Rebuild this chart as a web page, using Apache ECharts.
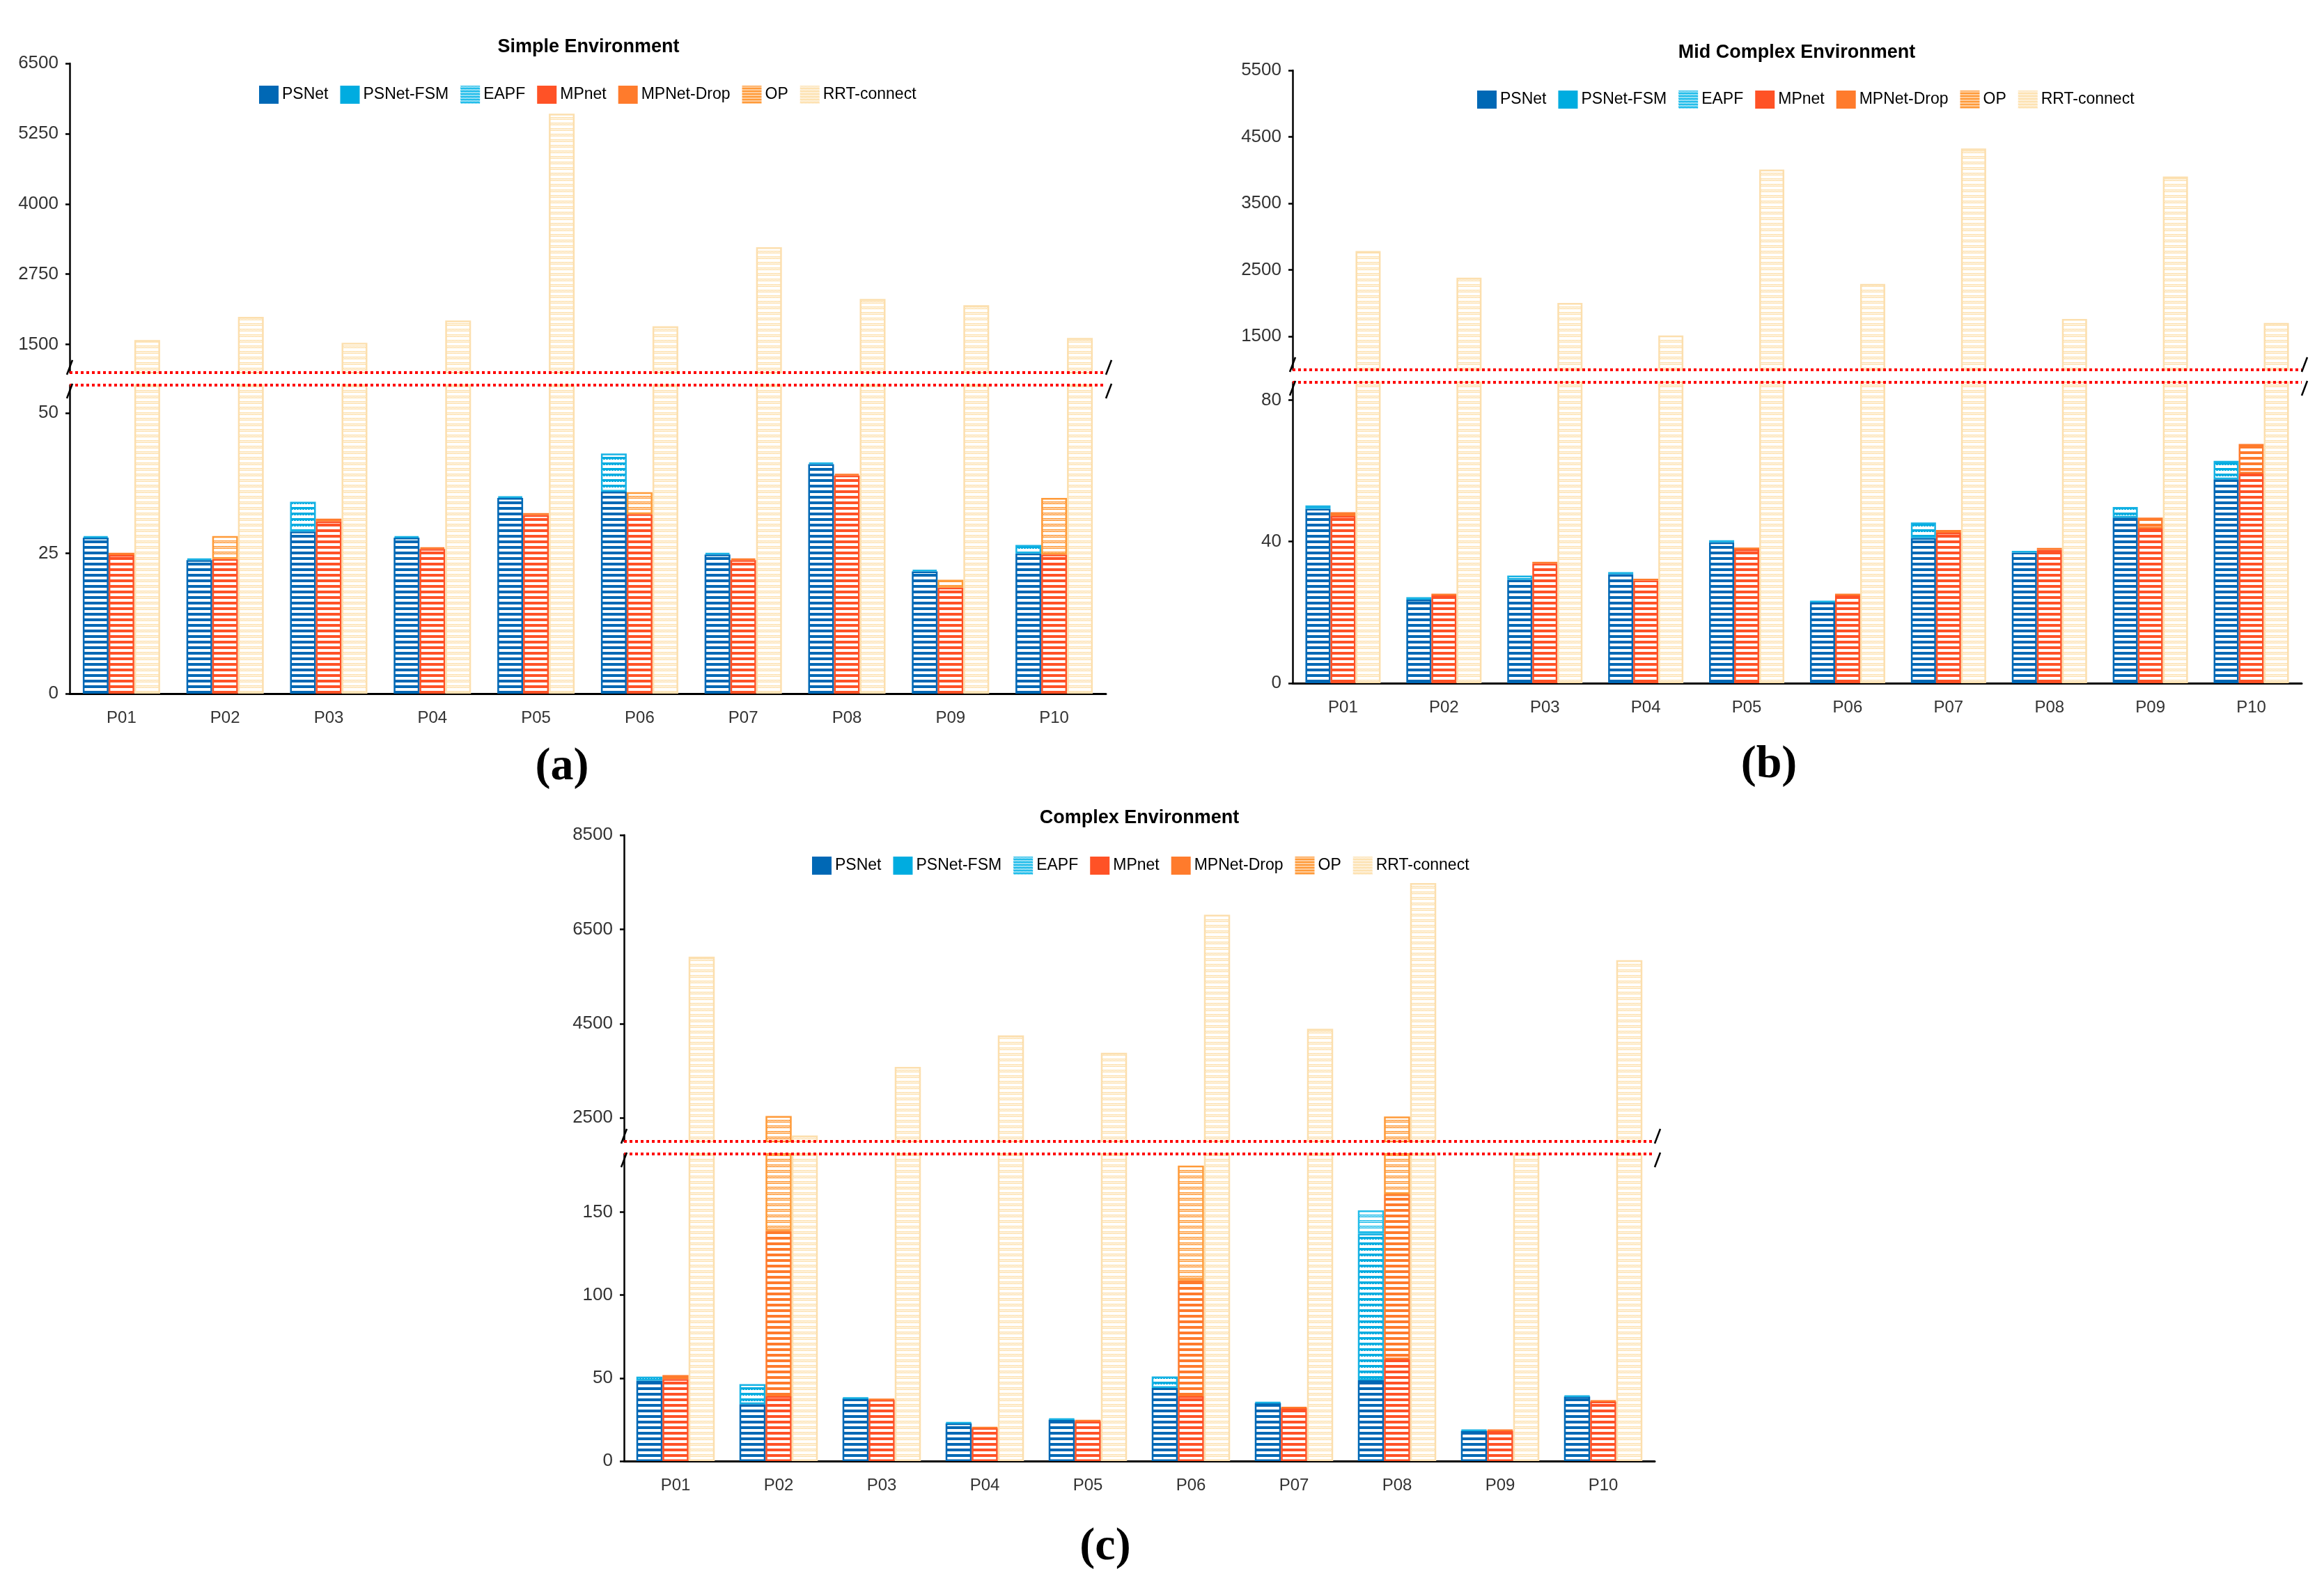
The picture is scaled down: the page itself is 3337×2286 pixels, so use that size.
<!DOCTYPE html>
<html>
<head>
<meta charset="utf-8">
<title>Planning time by environment</title>
<script src="https://cdn.jsdelivr.net/npm/echarts@6.0.0/dist/echarts.min.js"></script>
<style>
    html, body { margin: 0; padding: 0; background: #fff; }
    #cn { width: 3337px; height: 2286px; }
</style>
</head>
<body>
<div id="cn"></div>
<script>
'use strict';

const categories = ['P01', 'P02', 'P03', 'P04', 'P05', 'P06', 'P07', 'P08', 'P09', 'P10'];
const seriesNames = ['PSNet', 'PSNet-FSM', 'EAPF', 'MPnet', 'MPNet-Drop', 'OP', 'RRT-connect'];

// (a) Simple Environment  (null = hidden behind a taller bar of the same group)
const simplePSNet = [27.8, 23.8, 28.9, 27.8, 34.9, 36.0, 24.8, 40.9, 21.8, 25.0];
const simpleFSM   = [28.1, 24.1, 34.2, 28.1, 35.2, 42.8, 25.1, 41.2, 22.1, 26.5];
const simpleEAPF  = [null, null, null, null, null, null, null, null, null, null];
const simpleMPnet = [24.7, 24.0, 30.7, 25.8, 31.8, 32.0, 23.8, 38.9, 18.9, 24.8];
const simpleDrop  = [25.1, null, 31.2, 26.1, 32.2, null, 24.1, 39.2, null, null];
const simpleOP    = [null, 28.1, null, null, null, 35.9, null, null, 20.3, 34.9];
const simpleRRT   = [1580, 1990, 1530, 1925, 5605, 1825, 3230, 2310, 2200, 1615];

// (b) Mid Complex Environment
const midPSNet = [49.3, 23.6, 29.2, 30.8, 39.8, 22.8, 41.0, 36.9, 46.8, 57.6];
const midFSM   = [50.2, 24.3, 30.4, 31.4, 40.4, 23.3, 45.4, 37.4, 49.8, 62.8];
const midEAPF  = [null, null, null, null, null, null, null, null, null, null];
const midMPnet = [47.2, 24.8, 33.8, 29.0, 37.8, 24.8, 42.5, 37.7, 43.7, 59.2];
const midDrop  = [48.3, 25.3, 34.3, 29.5, 38.3, 25.3, 43.3, 38.2, 46.8, 67.6];
const midOP    = [null, null, null, null, null, null, null, null, null, null];
const midRRT   = [2785, 2385, 2005, 1515, 4010, 2290, 4325, 1765, 3905, 1705];

// (c) Complex Environment
const complexPSNet = [48.5, 34.3, 37.8, 22.8, 25.0, 44.0, 35.0, 48.7, 18.3, 38.9];
const complexFSM   = [50.9, 46.4, 38.2, 23.3, 25.5, 51.0, 35.5, 137, 18.8, 39.4];
const complexEAPF  = [null, null, null, null, null, null, null, 151, null, null];
const complexMPnet = [49.4, 39.0, 36.9, 19.9, 24.1, 39.0, 32.0, 61.2, 18.3, 35.9];
const complexDrop  = [51.8, 138.6, 37.3, 20.3, 24.6, 108.8, 32.4, 160.7, 18.8, 36.4];
const complexOP    = [null, 2540, null, null, null, 178, null, 2527, null, null];
const complexRRT   = [5920, 2126, 3580, 4250, 3880, 6810, 4390, 7480, 1850, 5845];

// tick labels (upper / lower part of the broken axis)
const simpleTicksUpper = [1500, 2750, 4000, 5250, 6500];
const simpleTicksLower = [0, 25, 50];
const midTicksUpper = [1500, 2500, 3500, 4500, 5500];
const midTicksLower = [0, 40, 80];
const complexTicksUpper = [2500, 4500, 6500, 8500];
const complexTicksLower = [0, 50, 100, 150];

const FONT = 'Liberation Sans, Arial, sans-serif';

const panels = [{
        title: 'Simple Environment', tag: '(a)',
        values: [simplePSNet, simpleFSM, simpleEAPF, simpleMPnet, simpleDrop, simpleOP, simpleRRT],
        ticksUp: simpleTicksUpper, ticksLow: simpleTicksLower,
        upMin: 1000, upMax: 6500, lowMax: 55,
        left: 100, width: 1488, upTop: 91, upBottom: 535, lowTop: 553, lowBottom: 996,
        barWidth: 37, titleX: 845, titleY: 68, legendX: 367, legendY: 118, tagX: 807, tagY: 1102
    },
    {
        title: 'Mid Complex Environment', tag: '(b)',
        values: [midPSNet, midFSM, midEAPF, midMPnet, midDrop, midOP, midRRT],
        ticksUp: midTicksUpper, ticksLow: midTicksLower,
        upMin: 1000, upMax: 5500, lowMax: 85,
        left: 1856, width: 1449, upTop: 101, upBottom: 531, lowTop: 549, lowBottom: 981,
        barWidth: 36, titleX: 2580, titleY: 76, legendX: 2116, legendY: 125, tagX: 2540, tagY: 1099
    },
    {
        title: 'Complex Environment', tag: '(c)',
        values: [complexPSNet, complexFSM, complexEAPF, complexMPnet, complexDrop, complexOP, complexRRT],
        ticksUp: complexTicksUpper, ticksLow: complexTicksLower,
        upMin: 2000, upMax: 8500, lowMax: 185,
        left: 896, width: 1480, upTop: 1199, upBottom: 1639, lowTop: 1657, lowBottom: 2098,
        barWidth: 37.5, titleX: 1636, titleY: 1175, legendX: 1161, legendY: 1225, tagX: 1587, tagY: 2222
    }
];

/**
 * small repeating tile: coloured stripe on top, white stripe below
 * @param {string} color
 * @param {string} kind plain | tick | dots | full
 */
const makePattern = (color, kind) => {
    const tile = document.createElement('canvas');
    tile.width = 8;
    tile.height = 8;
    const ctx = tile.getContext('2d');
    ctx.fillStyle = '#ffffff';
    ctx.fillRect(0, 0, 8, 8);
    ctx.fillStyle = color;
    ctx.fillRect(0, 0, 8, kind === 'full' ? 8 : 4);
    ctx.fillStyle = '#ffffff';
    if (kind === 'tick') {
        ctx.fillRect(1, 3, 1, 1);
        ctx.fillRect(5, 3, 1, 1);
    }
    if (kind === 'dots' || kind === 'full') {
        for (let x = 0; x < 8; x += 2) {
            ctx.fillRect(x, 1, 1, 1);
            ctx.fillRect(x + 1, 2, 1, 1);
            if (kind === 'full') {
                ctx.fillRect(x, 5, 1, 1);
                ctx.fillRect(x + 1, 6, 1, 1);
            }
        }
    }
    return { image: tile, repeat: 'repeat' };
};

const baseColors = ['#0068b5', '#00ace0', '#22bdea', '#ff5226', '#ff7b2c', '#ff9a38', '#fde2b2'];
const borderColors = ['#0068b5', '#17b2e4', '#22bdea', '#ff5226', '#ff7b2c', '#ff9a38', '#fcdfae'];
const barKinds = ['plain', 'tick', 'dots', 'plain', 'plain', 'dots', 'dots'];
const legendKinds = ['solid', 'solid', 'full', 'solid', 'solid', 'full', 'full'];

const barStyles = baseColors.map((c, i) => ({
    color: makePattern(c, barKinds[i]),
    borderColor: borderColors[i],
    borderWidth: 2.5
}));
const legendItems = seriesNames.map((n, i) => ({
    name: n,
    itemStyle: {
        color: legendKinds[i] === 'solid' ? baseColors[i] : makePattern(baseColors[i], 'full'),
        borderWidth: 0
    }
}));

// overlapping bars (tallest behind) drawn as a stack of the visible increments
const toSteps = (lists) => {
    const top = categories.map(() => 0);
    return lists.map(list => list.map((v, i) => {
        if (v == null || v <= top[i]) {
            return '-';
        }
        const d = v - top[i];
        top[i] = v;
        return d;
    }));
};

const grid = [];
const xAxis = [];
const yAxis = [];
const series = [];
const title = [];
const graphic = [];

const redLine = { color: '#ff0000', width: 4, type: 'dotted', cap: 'butt' };
const blackLine = { color: '#000000', width: 2.5 };
const plainNumber = v => String(v);

panels.forEach((p, k) => {
    grid.push({ left: p.left, width: p.width, top: p.upTop, height: p.upBottom - p.upTop, outerBoundsMode: 'none' });
    grid.push({ left: p.left, width: p.width, top: p.lowTop, height: p.lowBottom - p.lowTop, outerBoundsMode: 'none' });

    // upper: red dotted bottom line, lower: black axis + red dotted top line
    xAxis.push({
        type: 'category', gridIndex: 2 * k, data: categories, z: 5,
        axisLine: { onZero: false, lineStyle: redLine },
        axisTick: { show: false }, axisLabel: { show: false }
    });
    xAxis.push({
        type: 'category', gridIndex: 2 * k + 1, data: categories,
        axisLine: { onZero: false, lineStyle: { color: '#000', width: 3 } },
        axisTick: { alignWithLabel: true, length: 9, lineStyle: { color: '#000', width: 2 } },
        axisLabel: { color: '#333', fontSize: 24, fontFamily: FONT, margin: 23 }
    });
    xAxis.push({
        type: 'category', gridIndex: 2 * k + 1, data: categories, position: 'top', z: 5,
        axisLine: { onZero: false, lineStyle: redLine },
        axisTick: { show: false }, axisLabel: { show: false }
    });

    const yCommon = {
        type: 'value',
        axisLine: { show: true, lineStyle: blackLine },
        splitLine: { show: false }
    };
    yAxis.push(Object.assign({}, yCommon, {
        gridIndex: 2 * k, min: p.upMin, max: p.upMax,
        axisTick: { show: true, length: 6, customValues: p.ticksUp, lineStyle: blackLine },
        axisLabel: { customValues: p.ticksUp, formatter: plainNumber, color: '#333', fontSize: 26, fontFamily: FONT, margin: 16 }
    }));
    yAxis.push(Object.assign({}, yCommon, {
        gridIndex: 2 * k + 1, min: 0, max: p.lowMax,
        axisTick: { show: true, length: 6, customValues: p.ticksLow, lineStyle: blackLine },
        axisLabel: { customValues: p.ticksLow, formatter: plainNumber, color: '#333', fontSize: 26, fontFamily: FONT, margin: 16 }
    }));

    const steps = toSteps(p.values.slice(0, 3)).concat(toSteps(p.values.slice(3, 6)), [p.values[6]]);
    ['up', 'low'].forEach((part, j) => {
        steps.forEach((data, i) => {
            series.push({
                name: seriesNames[i],
                type: 'bar',
                xAxisIndex: 3 * k + j,
                yAxisIndex: 2 * k + j,
                stack: `${k}-${part}-${i < 3 ? 'ps' : (i < 6 ? 'mp' : 'rrt')}`,
                barWidth: p.barWidth,
                barGap: 0,
                data: data,
                clip: true,
                itemStyle: barStyles[i],
                emphasis: { disabled: true }
            });
        });
    });

    title.push({
        text: p.title, left: p.titleX, top: p.titleY, padding: 0,
        textAlign: 'center', textVerticalAlign: 'middle',
        textStyle: { fontSize: 27, fontWeight: 'bold', color: '#000', fontFamily: FONT }
    });
    title.push({
        text: p.tag, left: p.tagX, top: p.tagY, padding: 0,
        textAlign: 'center', textVerticalAlign: 'middle',
        textStyle: { fontSize: 66, fontWeight: 'bold', color: '#000', fontFamily: 'Liberation Serif, Times New Roman, serif' }
    });

    // break marks on the axis ends
    [p.left, p.left + p.width + 4].forEach(x => {
        graphic.push({ type: 'line', z: 10, shape: { x1: x - 4, y1: p.upBottom + 3, x2: x + 4, y2: p.upBottom - 18 }, style: { stroke: '#000', lineWidth: 2.5 } });
        graphic.push({ type: 'line', z: 10, shape: { x1: x - 4, y1: p.lowTop + 19, x2: x + 4, y2: p.lowTop - 2 }, style: { stroke: '#000', lineWidth: 2.5 } });
    });
});

const legend = panels.map(p => ({
    left: p.legendX,
    top: p.legendY,
    icon: 'rect',
    itemWidth: 28,
    itemHeight: 26,
    itemGap: 17,
    selectedMode: false,
    textStyle: { fontSize: 23, color: '#000', fontFamily: FONT },
    data: legendItems
}));

const chart = echarts.init(document.getElementById('cn'));
chart.setOption({
    animation: false,
    backgroundColor: '#ffffff',
    title: title,
    legend: legend,
    grid: grid,
    xAxis: xAxis,
    yAxis: yAxis,
    series: series,
    graphic: graphic
});
</script>
</body>
</html>
